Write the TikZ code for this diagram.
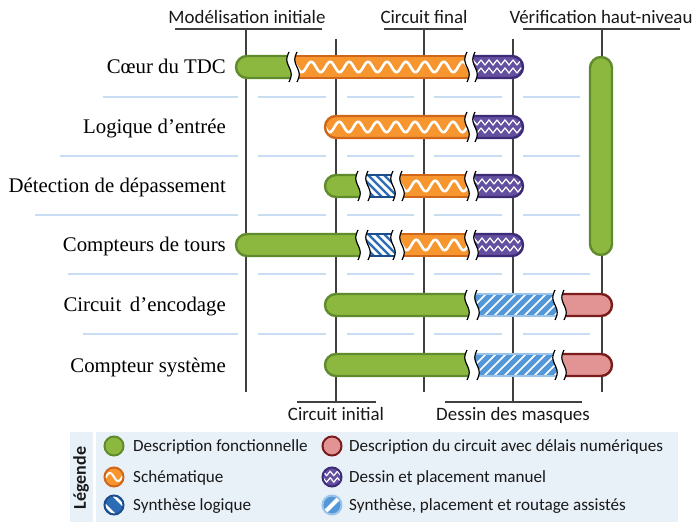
\documentclass[tikz,border=0pt]{standalone}
\usepackage{fontspec}
\setmainfont{Liberation Serif}
\newfontfamily\sansf{Carlito}
\definecolor{gfill}{HTML}{8DB840}
\definecolor{gline}{HTML}{5F8B2C}
\definecolor{ofill}{HTML}{F7962F}
\definecolor{oline}{HTML}{D0661A}
\definecolor{pfill}{HTML}{6450A0}
\definecolor{pline}{HTML}{3D2B78}
\definecolor{bfill}{HTML}{2B6CB5}
\definecolor{bline}{HTML}{1C4E8C}
\definecolor{lbfill}{HTML}{5297D8}
\definecolor{lbline}{HTML}{9CC4EA}
\definecolor{rfill}{HTML}{E29494}
\definecolor{rline}{HTML}{7A1C1C}
\definecolor{sepc}{HTML}{C8DDF1}
\definecolor{vlc}{HTML}{404040}
\definecolor{legbg}{HTML}{E8F0F8}
\tikzset{
  vl/.style={draw=vlc,line width=1.4pt},
  sepline/.style={draw=sepc,line width=2pt},
  barline/.style={line width=2.4pt},
  brkline/.style={draw=black,line width=1.2pt},
  rowlab/.style={anchor=base east,font=\fontsize{20.8}{24}\selectfont,inner sep=0pt},
  toplab/.style={anchor=base,font=\sansf\fontsize{18.9}{22}\selectfont,inner sep=0pt,text=black!90},
  leglab/.style={anchor=base west,font=\sansf\fontsize{17.1}{20}\selectfont,inner sep=0pt,text=black!90},
}
% break mark
\newcommand\brk[2]{\draw[brkline] plot[domain=-15:15,samples=17,variable=\q] ({#1+2.2*sin(12*\q)},{#2+\q});}
% patterns: {x1}{x2}{y}
\newcommand\patN[3]{}
\newcommand\patO[3]{\draw[white,line width=2.6pt] plot[domain=#1-4:#2+4,samples=140,variable=\q] (\q,{#3+5.2*sin((\q-#1)*19)});}
\newcommand\patP[3]{\foreach \o in {-4.5,3.5}{\draw[white,line width=1.2pt] plot[domain=#1-4:#2+4,samples=110,variable=\q] (\q,{#3+\o+2.6*asin(sin((\q-#1)*45))/90});}}
\newcommand\patB[3]{\foreach \k in {0,8,...,72}{\draw[white,line width=3pt] (#1-30+\k,#3-13) -- (#1-4+\k,#3+13);}}
\newcommand\patL[3]{\foreach \k in {0,10,...,130}{\draw[lbfill,line width=5pt] (#1-30+\k,#3+13) -- (#1-4+\k,#3-13);}}
% segments: {x1}{x2}{y}{fill}{line}{pattern}
\newcommand\segRW[6]{%
  \begin{scope}
    \clip (#1+11,#3-11) -- plot[domain=-11:11,samples=12,variable=\q] ({#2+2.2*sin(12*\q)},{#3+\q}) -- (#1+11,#3+11) arc[start angle=90,end angle=270,radius=11] -- cycle;
    \fill[#4] (#1-2,#3-14) rectangle (#2+5,#3+14);
    #6{#1}{#2}{#3}
  \end{scope}
  \draw[barline,#5] (#2-1.63,#3-11) -- (#1+11,#3-11) arc[start angle=270,end angle=90,radius=11] -- (#2+1.63,#3+11);
  \brk{#2}{#3}}
\newcommand\segWW[6]{%
  \begin{scope}
    \clip plot[domain=11:-11,samples=12,variable=\q] ({#1+2.2*sin(12*\q)},{#3+\q}) -- plot[domain=-11:11,samples=12,variable=\q] ({#2+2.2*sin(12*\q)},{#3+\q}) -- cycle;
    \fill[#4] (#1-5,#3-14) rectangle (#2+5,#3+14);
    #6{#1}{#2}{#3}
  \end{scope}
  \draw[barline,#5] (#1-1.63,#3-11) -- (#2-1.63,#3-11);
  \draw[barline,#5] (#1+1.63,#3+11) -- (#2+1.63,#3+11);
  \brk{#1}{#3}\brk{#2}{#3}}
\newcommand\segWR[6]{%
  \begin{scope}
    \clip plot[domain=11:-11,samples=12,variable=\q] ({#1+2.2*sin(12*\q)},{#3+\q}) -- (#2-11,#3-11) arc[start angle=270,end angle=450,radius=11] -- cycle;
    \fill[#4] (#1-5,#3-14) rectangle (#2+2,#3+14);
    #6{#1}{#2}{#3}
  \end{scope}
  \draw[barline,#5] (#1-1.63,#3-11) -- (#2-11,#3-11) arc[start angle=270,end angle=450,radius=11] -- (#1+1.63,#3+11);
  \brk{#1}{#3}}
\begin{document}
\begin{tikzpicture}[x=1pt,y=-1pt]
\useasboundingbox (0,0) rectangle (693,526);
\fill[white] (0,0) rectangle (693,526);
% ---- top and bottom labels
\node[toplab] (tMod) at (247,23.5) {Modélisation initiale};
\node[toplab] (tFin) at (424,23.5) {Circuit final};
\node[toplab] (tVer) at (601,23.5) {Vérification haut-niveau};
\node[toplab] (bIni) at (336,420) {Circuit initial};
\node[toplab] (bMas) at (513,420) {Dessin des masques};
\coordinate (u1a) at (175,29); \coordinate (u1b) at (322,29);
\coordinate (u3a) at (384,29); \coordinate (u3b) at (463,29);
\coordinate (u5a) at (523,29); \coordinate (u5b) at (680,29);
\coordinate (o2a) at (297,402); \coordinate (o2b) at (376,402);
\coordinate (o4a) at (445,402); \coordinate (o4b) at (582,402);
\draw[vl] (u1a) -- (u1b);
\draw[vl] (u3a) -- (u3b);
\draw[vl] (u5a) -- (u5b);
\draw[vl] (o2a) -- (o2b);
\draw[vl] (o4a) -- (o4b);
\coordinate (v1t) at (246,29); \coordinate (v1b) at (246,392);
\coordinate (v2t) at (336,39); \coordinate (v2b) at (336,402);
\coordinate (v3t) at (424,29); \coordinate (v3b) at (424,392);
\coordinate (v4t) at (513,39); \coordinate (v4b) at (513,402);
\coordinate (v5t) at (602,29); \coordinate (v5b) at (602,392);
\foreach \v in {1,...,5}{\draw[vl] (v\v t) -- (v\v b);}
% ---- separators
\foreach \yy/\xs/\xe in {97/103/580,156/60/580,215/35/580,274/68/590,334/83/590}{
  \draw[sepline] (\xs,\yy) -- (238,\yy);
  \draw[sepline] (258,\yy) -- (326,\yy);
  \draw[sepline] (347,\yy) -- (414,\yy);
  \draw[sepline] (434,\yy) -- (502,\yy);
  \draw[sepline] (523,\yy) -- (\xe,\yy);
}
% ---- row labels
\node[rowlab] (r1) at (226,74) {Cœur du TDC};
\node[rowlab] (r2) at (226,134) {Logique d’entrée};
\node[rowlab] (r3) at (226,193) {Détection de dépassement};
\node[rowlab] (r4) at (226,252) {Compteurs de tours};
\node[rowlab] (r5) at (226,312) {Circuit\, d’encodage};
\node[rowlab] (r6) at (226,372) {Compteur système};
% ---- bars
% row 1
\segRW{236}{289}{67}{gfill}{gline}{\patN}
\segWW{297}{467}{67}{ofill}{oline}{\patO}
\segWR{475}{523}{67}{pfill}{pline}{\patP}
% row 2
\segRW{325}{467}{127}{ofill}{oline}{\patO}
\segWR{475}{523}{127}{pfill}{pline}{\patP}
% row 3
\segRW{325}{358}{186}{gfill}{gline}{\patN}
\segWW{368}{393}{186}{bfill}{bline}{\patB}
\segWW{402}{467}{186}{ofill}{oline}{\patO}
\segWR{476}{523}{186}{pfill}{pline}{\patP}
% row 4
\segRW{236}{358}{245}{gfill}{gline}{\patN}
\segWW{368}{393}{245}{bfill}{bline}{\patB}
\segWW{402}{467}{245}{ofill}{oline}{\patO}
\segWR{476}{523}{245}{pfill}{pline}{\patP}
% row 5
\segRW{325}{467}{305}{gfill}{gline}{\patN}
\segWW{477}{555}{305}{white}{lbline}{\patL}
\segWR{564}{612}{305}{rfill}{rline}{\patN}
% row 6
\segRW{325}{467}{365}{gfill}{gline}{\patN}
\segWW{477}{555}{365}{white}{lbline}{\patL}
\segWR{564}{612}{365}{rfill}{rline}{\patN}
% vertical bar
\draw[barline,draw=gline,fill=gfill,rounded corners=11pt] (590,57) rectangle (612,255);
% ---- legend
\fill[legbg] (70,432) rectangle (93,522);
\fill[legbg] (96,432) rectangle (678,522);
\node[rotate=90,font=\sansf\bfseries\fontsize{18}{21}\selectfont,text=black!90] (leg) at (81,478) {Légende};
% icons
\draw[line width=2pt,draw=gline,fill=gfill] (114,446) circle[radius=9.5];
\begin{scope}\clip (114,477) circle[radius=9.5];
  \fill[ofill] (114,477) circle[radius=10];
  \draw[white,line width=2pt] plot[domain=102:126,samples=40,variable=\q] (\q,{477+4*sin((\q-114)*22)});
\end{scope}
\draw[line width=2pt,draw=oline] (114,477) circle[radius=9.5];
\begin{scope}\clip (114,505) circle[radius=9.5];
  \fill[bfill] (114,505) circle[radius=10];
  \foreach \o in {-4.5,4.5}{\draw[white,line width=2.6pt] (114-12+\o,505-12-\o) -- (114+12+\o,505+12-\o);}
\end{scope}
\draw[line width=2pt,draw=bline] (114,505) circle[radius=9.5];
\draw[line width=2pt,draw=rline,fill=rfill] (332,446) circle[radius=9.5];
\begin{scope}\clip (332,477) circle[radius=9.5];
  \fill[pfill] (332,477) circle[radius=10];
  \foreach \o in {-3.5,3}{\draw[white,line width=1.2pt] plot[domain=320:344,samples=60,variable=\q] (\q,{477+\o+2.2*asin(sin((\q-332)*50))/90});}
\end{scope}
\draw[line width=2pt,draw=pline] (332,477) circle[radius=9.5];
\begin{scope}\clip (332,505) circle[radius=9.5];
  \fill[lbfill] (332,505) circle[radius=10];
  \draw[white,line width=4pt] (320,517) -- (344,493);
\end{scope}
\draw[line width=2pt,draw=lbline] (332,505) circle[radius=9.5];
% legend texts
\node[leglab] (l1) at (133,451.5) {Description fonctionnelle};
\node[leglab] (l2) at (133,482.5) {Schématique};
\node[leglab] (l3) at (133,510.5) {Synthèse logique};
\node[leglab] (l4) at (349,451.5) {Description du circuit avec délais numériques};
\node[leglab] (l5) at (349,482.5) {Dessin et placement manuel};
\node[leglab] (l6) at (349,510.5) {Synthèse, placement et routage assistés};
\end{tikzpicture}
\end{document}
